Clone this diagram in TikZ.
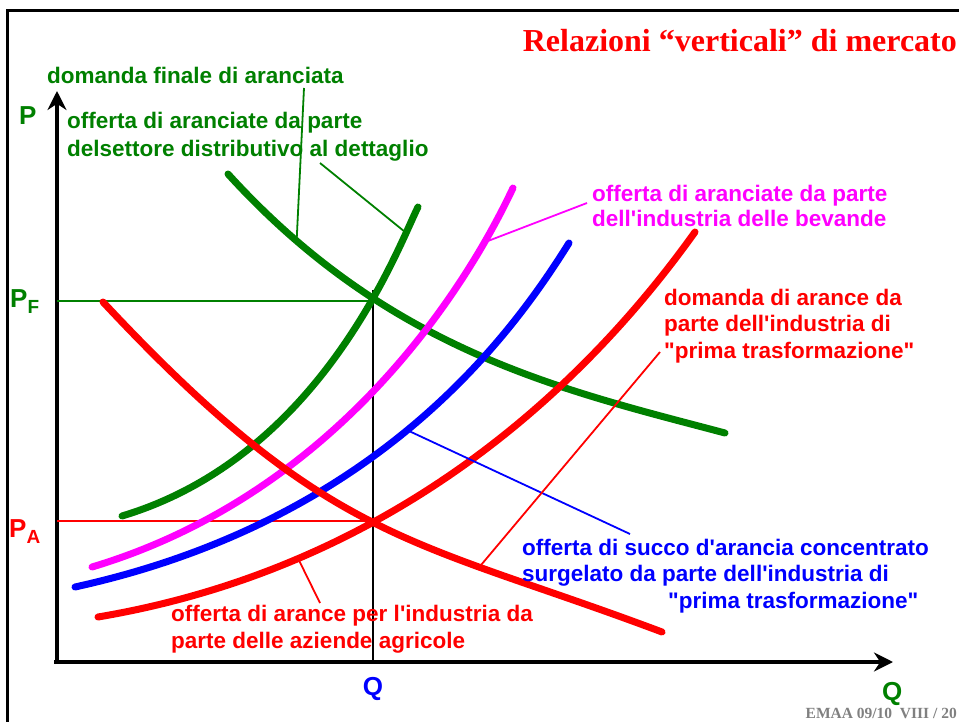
\documentclass[tikz,border=0pt]{standalone}
\usepackage{fontspec}
\setmainfont{Liberation Serif}
\setsansfont{Liberation Sans}
\usetikzlibrary{arrows.meta}
\definecolor{dkgreen}{RGB}{0,128,0}
\definecolor{magen}{RGB}{255,0,255}
\newcommand{\labfont}{\sffamily\bfseries\fontsize{22.5}{26.5}\selectfont}
\newcommand{\axfont}{\sffamily\bfseries\fontsize{26}{26}\selectfont}
\newcommand{\subf}[1]{\raisebox{-6pt}{\fontsize{19}{19}\selectfont #1}}
\newcommand{\ptr}[3]{\draw[#1,pointer] (#2) -- (#3);}

\begin{document}
\begin{tikzpicture}[x=1pt,y=-1pt,
	curve/.style={line width=7pt,line cap=round},
	pointer/.style={line width=1.8pt},
	lbl/.style={inner sep=0pt,anchor=base west,align=left,font=\labfont}]
	\clip (0,0) rectangle (959,722);
	
	% Frame of the slide
	\draw[line width=3pt] (7,11) rectangle (990,750);
	
	% Title and footer
	\node[red,inner sep=0pt,anchor=base east,font=\rmfamily\bfseries\fontsize{32}{38}\selectfont] (title) at (957,52) {Relazioni “verticali” di mercato};
	\node[gray,inner sep=0pt,anchor=base east,font=\rmfamily\bfseries\fontsize{15.5}{16}\selectfont] (foot) at (957,718) {EMAA 09/10\ \ VIII / 20};
	
	% Axes
	\draw[line width=4.5pt,-{Stealth[length=19pt,width=19pt]}] (57,664) -- (57,91);
	\draw[line width=4.5pt,-{Stealth[length=19pt,width=19pt]}] (54,662) -- (893,662);
	\node[dkgreen,inner sep=0pt,anchor=base west,font=\axfont] (P) at (19,125) {P};
	\node[dkgreen,inner sep=0pt,anchor=base west,font=\axfont] (Qax) at (882,700) {Q};
	
	% Equilibrium levels
	\draw[dkgreen,pointer] (57,301) -- (372,301);
	\draw[red,pointer] (57,521) -- (373,521);
	\draw[pointer] (373,290) -- (373,662);
	\node[dkgreen,inner sep=0pt,anchor=base west,font=\axfont] (PF) at (10,307) {P\subf{F}};
	\node[red,inner sep=0pt,anchor=base west,font=\axfont] (PA) at (9,537) {P\subf{A}};
	\node[blue,inner sep=0pt,anchor=base,font=\axfont] (Qeq) at (373,695) {Q};
	
	% Curves (with the points where the pointers touch them)
	\draw[dkgreen,curve] (228,174) .. controls (390,352) and (563,390) .. (725,433) coordinate[pos=0.14] (cDom);
	\draw[dkgreen,curve] (122,516) .. controls (322,456) and (398,247) .. (418,207) coordinate[pos=0.86] (cDett);
	\draw[magen,curve] (92,567) .. controls (372,483) and (493,230) .. (513,188) coordinate[pos=0.78] (cBev);
	\draw[blue,curve] (75,587) .. controls (375,521) and (509,339) .. (569,243) coordinate[pos=0.49] (cSucco);
	\draw[red,curve] (98,617) .. controls (418,563) and (605,358) .. (695,232) coordinate[pos=0.23] (cAgr);
	\draw[red,curve] (103,302) .. controls (330,545) and (412,538) .. (662,632) coordinate[pos=0.71] (cTrasf);
	
	% Labels
	\node[lbl,dkgreen] (lblDom) at (47,84) {domanda finale di aranciata};
	\node[lbl,dkgreen] (lblDett) at (67,157) {offerta di aranciate da parte\\[2pt]delsettore distributivo al dettaglio};
	\node[lbl,magen] (lblBev) at (592,227) {offerta di aranciate da parte\\[-1pt]dell\textquotesingle industria delle bevande};
	\node[lbl,red] (lblTrasf) at (664,358) {domanda di arance da\\parte dell\textquotesingle industria di\\\textquotedbl prima trasformazione\textquotedbl};
	\node[lbl,blue] (lblSucco) at (522,608) {offerta di succo d\textquotesingle arancia concentrato\\surgelato da parte dell\textquotesingle industria di\\\hspace*{146pt}\textquotedbl prima trasformazione\textquotedbl};
	\node[lbl,red] (lblAgr) at (171,648) {offerta di arance per l\textquotesingle industria da\\parte delle aziende agricole};
	
	% Pointers from labels to curves
	\coordinate (tDom) at (304,88);
	\coordinate (tDett) at (320,163);
	\coordinate (tBev) at (587,203);
	\coordinate (tSucco) at (630,534);
	\coordinate (tTrasf) at (660,352);
	\coordinate (tAgr) at (320,603);
	\ptr{dkgreen}{tDom}{cDom}
	\ptr{dkgreen}{tDett}{cDett}
	\ptr{magen}{tBev}{cBev}
	\ptr{blue}{tSucco}{cSucco}
	\ptr{red}{tTrasf}{cTrasf}
	\ptr{red}{tAgr}{cAgr}
\end{tikzpicture}
\end{document}
